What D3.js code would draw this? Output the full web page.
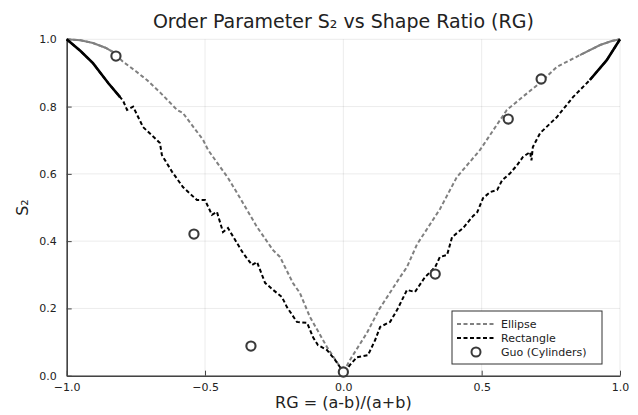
<!DOCTYPE html>
<html>
<head>
<meta charset="utf-8">
<script src="https://cdn.jsdelivr.net/npm/d3@7"></script>
<style>
  body { margin: 0; background: #fff; }
  text { font-family: "DejaVu Sans", sans-serif; }
</style>
</head>
<body>
<svg id="chart" width="638" height="415"></svg>
<script>
// values
const ellipseX = [-1.0, -0.95, -0.905, -0.86, -0.832, -0.796, -0.75, -0.71, -0.66, -0.601, -0.58, -0.507, -0.489, -0.417, -0.384, -0.312, -0.254, -0.229, -0.182, -0.157, -0.121, -0.059, -0.012, 0.0, 0.024, 0.085, 0.13, 0.205, 0.23, 0.266, 0.349, 0.41, 0.494, 0.591, 0.65, 0.71, 0.772, 0.855, 0.928, 0.97, 1.0];
const ellipseY = [1.0, 0.997, 0.989, 0.975, 0.962, 0.933, 0.905, 0.879, 0.84, 0.79, 0.781, 0.701, 0.671, 0.588, 0.543, 0.442, 0.373, 0.353, 0.275, 0.246, 0.175, 0.085, 0.026, 0.01, 0.047, 0.127, 0.198, 0.293, 0.323, 0.39, 0.495, 0.59, 0.671, 0.79, 0.83, 0.87, 0.918, 0.953, 0.983, 0.995, 1.0];

const rectX = [-1.0, -0.95, -0.905, -0.85, -0.807, -0.796, -0.782, -0.76, -0.724, -0.663, -0.656, -0.619, -0.58, -0.529, -0.5, -0.475, -0.457, -0.435, -0.417, -0.363, -0.33, -0.312, -0.283, -0.254, -0.222, -0.204, -0.168, -0.131, -0.11, -0.092, -0.059, -0.03, -0.005, 0.0, 0.024, 0.049, 0.089, 0.115, 0.133, 0.169, 0.196, 0.23, 0.259, 0.295, 0.332, 0.349, 0.375, 0.393, 0.433, 0.469, 0.484, 0.505, 0.531, 0.556, 0.574, 0.603, 0.628, 0.649, 0.675, 0.68, 0.685, 0.711, 0.772, 0.83, 0.891, 0.952, 1.0];
const rectY = [1.0, 0.965, 0.929, 0.87, 0.828, 0.817, 0.79, 0.8, 0.739, 0.692, 0.656, 0.606, 0.561, 0.522, 0.522, 0.478, 0.487, 0.427, 0.439, 0.365, 0.329, 0.338, 0.276, 0.255, 0.234, 0.204, 0.16, 0.157, 0.115, 0.091, 0.076, 0.047, 0.017, 0.005, 0.032, 0.055, 0.061, 0.106, 0.145, 0.16, 0.198, 0.255, 0.249, 0.293, 0.323, 0.353, 0.359, 0.412, 0.439, 0.475, 0.486, 0.528, 0.546, 0.552, 0.581, 0.602, 0.626, 0.65, 0.665, 0.64, 0.68, 0.721, 0.769, 0.828, 0.879, 0.938, 1.0];

const guoX = [-0.822, -0.54, -0.334, 0.0, 0.332, 0.596, 0.715];
const guoY = [0.95, 0.421, 0.088, 0.011, 0.302, 0.763, 0.882];

const xTicks = [-1.0, -0.5, 0.0, 0.5, 1.0];
const yTicks = [0.0, 0.2, 0.4, 0.6, 0.8, 1.0];

const svg = d3.select('#chart');
const margin = {top: 39.3, right: 18, bottom: 39.3, left: 66.7};
const width = +svg.attr('width');
const height = +svg.attr('height');
const innerWidth = width - margin.left - margin.right;
const innerHeight = height - margin.top - margin.bottom;

const xScale = d3.scaleLinear().domain([-1, 1]).range([0, innerWidth]);
const yScale = d3.scaleLinear().domain([0, 1]).range([innerHeight, 0]);

const g = svg.append('g').attr('transform', `translate(${margin.left},${margin.top})`);

// grid
g.append('g').selectAll('line').data(xTicks).join('line')
  .attr('x1', d => xScale(d)).attr('x2', d => xScale(d))
  .attr('y1', 0).attr('y2', innerHeight)
  .attr('stroke', '#000').attr('stroke-opacity', 0.1).attr('stroke-width', 0.8);
g.append('g').selectAll('line').data(yTicks).join('line')
  .attr('y1', d => yScale(d)).attr('y2', d => yScale(d))
  .attr('x1', 0).attr('x2', innerWidth)
  .attr('stroke', '#000').attr('stroke-opacity', 0.1).attr('stroke-width', 0.8);

// axes
const xAxis = d3.axisBottom(xScale).tickValues(xTicks).tickFormat(d3.format('.1f')).tickSizeInner(-5).tickSizeOuter(0).tickPadding(8);
const yAxis = d3.axisLeft(yScale).tickValues(yTicks).tickFormat(d3.format('.1f')).tickSizeInner(-5).tickSizeOuter(0).tickPadding(10);

const gx = g.append('g').attr('transform', `translate(0,${innerHeight})`).call(xAxis);
const gy = g.append('g').call(yAxis);
[gx, gy].forEach(a => {
  a.select('.domain').attr('stroke', '#444').attr('stroke-width', 1.6);
  a.selectAll('.tick line').attr('stroke', '#444').attr('stroke-width', 1);
  a.selectAll('.tick text').attr('font-size', 11).attr('fill', '#222')
    .attr('font-family', '"DejaVu Sans", sans-serif');
});

const line = d3.line().x(d => xScale(d[0])).y(d => yScale(d[1]));
const ellipse = ellipseX.map((x, i) => [x, ellipseY[i]]);
const rect = rectX.map((x, i) => [x, rectY[i]]);

// dashed curves
g.append('path').datum(ellipse).attr('d', line)
  .attr('fill', 'none').attr('stroke', '#808080').attr('stroke-width', 2)
  .attr('stroke-dasharray', '4,2.5');
g.append('path').datum(rect).attr('d', line)
  .attr('fill', 'none').attr('stroke', '#000').attr('stroke-width', 2)
  .attr('stroke-dasharray', '4,2.5');

// dense noisy ends look solid in the picture
[[ellipse, '#808080', 2], [rect, '#000', 2.6]].forEach(([pts, col, w]) => {
  [pts.filter(d => d[0] <= -0.8), pts.filter(d => d[0] >= 0.84)].forEach(part => {
    g.append('path').datum(part).attr('d', line)
      .attr('fill', 'none').attr('stroke', col).attr('stroke-width', w);
  });
});

// Guo markers
g.append('g').selectAll('circle').data(guoX).join('circle')
  .attr('cx', d => xScale(d)).attr('cy', (d, i) => yScale(guoY[i]))
  .attr('r', 4.6).attr('fill', '#fff').attr('stroke', '#3a3a3a').attr('stroke-width', 2.1);

// title and labels
svg.append('text').attr('x', margin.left + innerWidth / 2).attr('y', 28)
  .attr('text-anchor', 'middle').attr('font-size', 19).attr('fill', '#222')
  .text('Order Parameter S₂ vs Shape Ratio (RG)');
svg.append('text').attr('x', margin.left + innerWidth / 2).attr('y', 408)
  .attr('text-anchor', 'middle').attr('font-size', 16).attr('fill', '#222')
  .text('RG = (a-b)/(a+b)');
svg.append('text').attr('transform', `translate(28,${margin.top + innerHeight / 2}) rotate(-90)`)
  .attr('text-anchor', 'middle').attr('font-size', 16).attr('fill', '#222')
  .text('S₂');

// legend
const legend = svg.append('g').attr('transform', 'translate(452,311)');
legend.append('rect').attr('width', 150).attr('height', 53)
  .attr('fill', '#fff').attr('stroke', '#333').attr('stroke-width', 1);
const items = [
  {label: 'Ellipse', color: '#808080', type: 'line'},
  {label: 'Rectangle', color: '#000', type: 'line'},
  {label: 'Guo (Cylinders)', color: '#3a3a3a', type: 'marker'}
];
items.forEach((it, i) => {
  const y = 13 + i * 14;
  if (it.type === 'line') {
    legend.append('line').attr('x1', 5).attr('x2', 43).attr('y1', y).attr('y2', y)
      .attr('stroke', it.color).attr('stroke-width', 2).attr('stroke-dasharray', '4,2.5');
  } else {
    legend.append('circle').attr('cx', 24).attr('cy', y).attr('r', 4.5)
      .attr('fill', '#fff').attr('stroke', it.color).attr('stroke-width', 2);
  }
  legend.append('text').attr('x', 49).attr('y', y + 4).attr('font-size', 11)
    .attr('fill', '#222').text(it.label);
});
</script>
</body>
</html>
